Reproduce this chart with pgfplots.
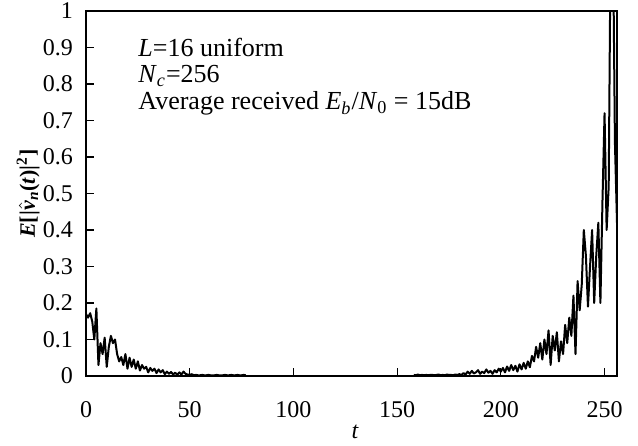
\documentclass[border=0pt]{standalone}
\usepackage{fontspec}
\setmainfont{Liberation Serif}
\usepackage{pgfplots}
\pgfplotsset{compat=1.18}

% mean squared channel estimation error over the OFDM symbol time t
\pgfplotstableread{
t v
0 0.170
1 0.160
2 0.172
3 0.150
4 0.100
5 0.185
6 0.030
7 0.090
8 0.060
9 0.105
10 0.025
11 0.080
12 0.110
13 0.090
14 0.100
15 0.060
16 0.040
17 0.052
18 0.030
19 0.060
20 0.020
21 0.050
22 0.025
23 0.045
24 0.020
25 0.040
26 0.015
27 0.030
28 0.020
29 0.025
30 0.010
31 0.022
32 0.014
33 0.020
34 0.008
35 0.018
36 0.010
37 0.016
38 0.005
39 0.012
40 0.006
41 0.011
42 0.004
43 0.009
44 0.003
45 0.010
46 0.004
47 0.012
48 0.006
49 0.004
50 0.003
51 0.005
52 0.002
53 0.003
54 0.002
55 0.002
56 0.003
57 0.002
58 0.002
59 0.003
60 0.002
61 0.002
62 0.002
63 0.003
64 0.002
65 0.002
66 0.002
67 0.003
68 0.002
69 0.002
70 0.003
71 0.002
72 0.002
73 0.003
74 0.002
75 0.002
76 0.003
77 0.002
}\early

\pgfplotstableread{
t v
158 0.003
159 0.002
160 0.004
161 0.002
162 0.003
163 0.002
164 0.003
165 0.002
166 0.003
167 0.003
168 0.002
169 0.003
170 0.004
171 0.002
172 0.003
173 0.002
174 0.004
175 0.003
176 0.003
177 0.002
178 0.004
179 0.003
180 0.005
181 0.003
182 0.008
183 0.004
184 0.012
185 0.006
186 0.014
187 0.007
188 0.010
189 0.016
190 0.006
191 0.012
192 0.008
193 0.018
194 0.009
195 0.014
196 0.006
197 0.016
198 0.010
199 0.020
200 0.012
201 0.022
202 0.010
203 0.026
204 0.014
205 0.030
206 0.016
207 0.028
208 0.012
209 0.032
210 0.018
211 0.036
212 0.020
213 0.040
214 0.024
215 0.055
216 0.040
217 0.080
218 0.050
219 0.090
220 0.045
221 0.100
222 0.060
223 0.125
224 0.030
225 0.110
226 0.070
227 0.120
228 0.040
229 0.095
230 0.060
231 0.140
232 0.090
233 0.160
234 0.110
235 0.220
236 0.060
237 0.260
238 0.180
239 0.250
240 0.400
241 0.330
242 0.190
243 0.300
244 0.400
245 0.200
246 0.330
247 0.420
248 0.200
249 0.480
250 0.720
251 0.400
252 0.520
253 1.250
254 1.250
255 0.640
256 0.420
}\late

\begin{document}
\begin{tikzpicture}
\begin{axis}[
  at={(43pt,34.5pt)}, anchor=south west,
  scale only axis,
  width=265.5pt, height=182.5pt,
  xmin=0, xmax=256, ymin=0, ymax=1,
  xtick={0,50,100,150,200,250},
  ytick={0,0.1,0.2,0.3,0.4,0.5,0.6,0.7,0.8,0.9,1},
  yticklabels={0,0.1,0.2,0.3,0.4,0.5,0.6,0.7,0.8,0.9,1},
  xtick pos=bottom, ytick pos=left,
  tick align=inside,
  major tick length=4pt,
  tick style={black, line width=0.6pt},
  axis line style={line width=1pt},
  /pgf/number format/assume math mode=true,
  ticklabel style={font=\fontsize{12}{14}\selectfont},
  xticklabel style={yshift=-9pt},
  yticklabel style={xshift=-3pt},
  xlabel={\textit{t}},
  xlabel style={font=\fontsize{12}{14}\selectfont, at={(axis description cs:0.507,-0.153)}, anchor=center},
  ylabel={\textbf{\textit{E}[|$\hat{\textbf{\textit{v}}}$\textsubscript{\textit{n}}(\textit{t})|\textsuperscript{2}]}},
  ylabel style={font=\fontsize{11}{13}\selectfont, at={(axis description cs:-0.109,0.5)}, anchor=center},
]
\addplot[black, line width=1pt, line join=round] table[x=t, y=v] {\early};
\addplot[black, line width=1pt, line join=round] table[x=t, y=v] {\late};
\node[anchor=base west, font=\fontsize{13}{15}\selectfont, inner sep=0pt] at (axis description cs:0.098,0.874) {\textit{L}=16 uniform};
\node[anchor=base west, font=\fontsize{13}{15}\selectfont, inner sep=0pt] at (axis description cs:0.098,0.803) {\textit{N}\textsubscript{\textit{c}}=256};
\node[anchor=base west, font=\fontsize{13}{15}\selectfont, inner sep=0pt] at (axis description cs:0.098,0.729) {Average received \textit{E}\textsubscript{\textit{b}}/\textit{N}\textsubscript{0} = 15dB};
\end{axis}
\pgfresetboundingbox
\path (0,0) rectangle (319pt,222.5pt);
\end{tikzpicture}
\end{document}
